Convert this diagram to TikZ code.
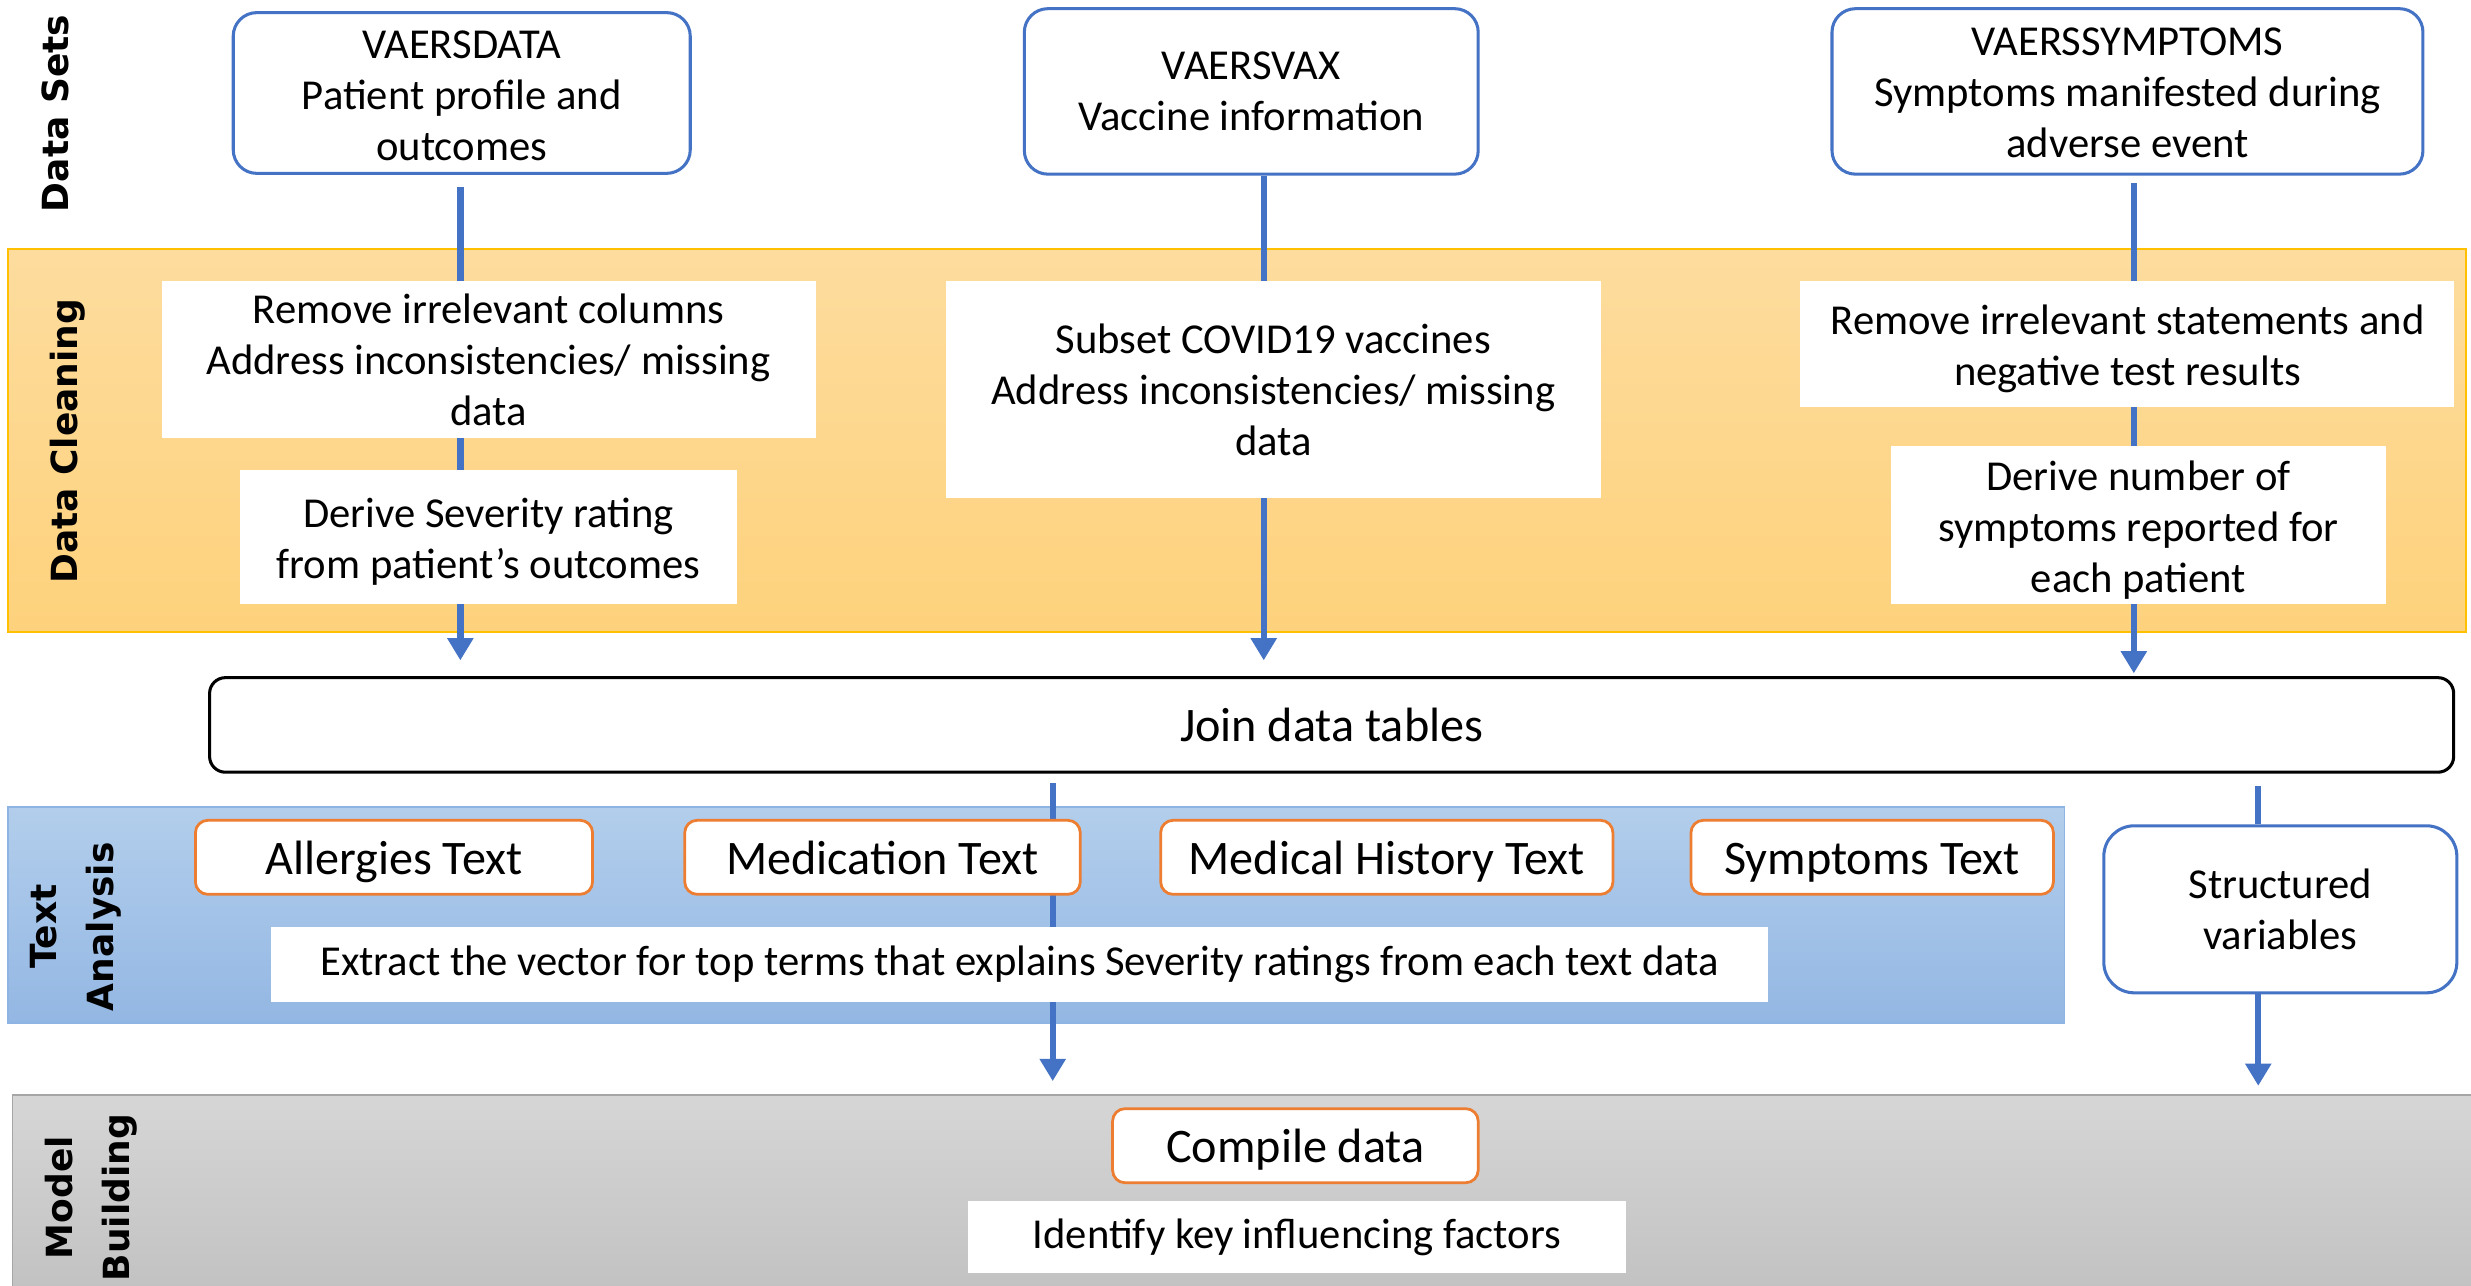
\documentclass[tikz,border=0pt]{standalone}
\usepackage{fontspec}
\setmainfont{Carlito}
\newfontfamily\lanefont{DejaVu Sans}
\usetikzlibrary{arrows.meta}
\definecolor{dblue}{HTML}{4472C4}
\definecolor{orng}{HTML}{ED7D31}
\definecolor{goldtop}{HTML}{FDDC9E}
\definecolor{goldbot}{HTML}{FED27C}
\definecolor{goldline}{HTML}{FFC000}
\definecolor{bluetop}{HTML}{B3CEEC}
\definecolor{bluebot}{HTML}{93B7E3}
\definecolor{blueline}{HTML}{8EB4E3}
\definecolor{graytop}{HTML}{D6D6D6}
\definecolor{graybot}{HTML}{C0C0C0}
\definecolor{grayline}{HTML}{A6A6A6}
\newcommand\pxu{0.02cm}
\newcommand\mainsz{\fontsize{15.4}{18.4}\selectfont}
\newcommand\bigsz{\fontsize{17.4}{20}\selectfont}
\newcommand\lowtab[2]{\raisebox{-#1}[\height][\depth]{\begin{tabular}{@{}c@{}}#2\end{tabular}}}
\pgfdeclarelayer{bg}
\pgfdeclarelayer{mid}
\pgfsetlayers{bg,mid,main}
\begin{document}
\begin{tikzpicture}[x=0.02cm,y=-0.02cm,
  dsbox/.style={draw=dblue, line width=1.1pt, rounded corners=8.5pt, fill=white, align=center, inner sep=0pt, font=\mainsz},
  wbox/.style={fill=white, align=center, inner sep=0pt, font=\mainsz},
  obox/.style={draw=orng, line width=1pt, rounded corners=4.5pt, fill=white, align=center, inner sep=0pt, font=\bigsz, text height=14pt, text depth=1.6pt},
  lanelbl/.style={rotate=90, align=center, font=\lanefont\bfseries\fontsize{13}{20.5}\selectfont},
  arr/.style={draw=dblue, line width=2.3pt, -{Triangle[width=9pt,length=8pt]}},
  conn/.style={draw=dblue, line width=2.3pt}
]
\path[use as bounding box] (0,0) rectangle (1568,816);

% top data sets
\node[dsbox, minimum width=290*\pxu, minimum height=102*\pxu] (vdata) at (293,59) {\lowtab{2.3pt}{VAERSDATA\\Patient profile and\\outcomes}};
\node[dsbox, minimum width=288*\pxu, minimum height=105*\pxu] (vvax) at (794,58) {VAERSVAX\\Vaccine information};
\node[dsbox, minimum width=375*\pxu, minimum height=105*\pxu] (vsym) at (1350,58) {\lowtab{1.7pt}{VAERSSYMPTOMS\\Symptoms manifested during\\adverse event}};

% cleaning
\node[wbox, minimum width=415*\pxu, minimum height=100*\pxu] (c1a) at (310,228) {\lowtab{1.8pt}{Remove irrelevant columns\\Address inconsistencies/ missing\\data}};
\node[wbox, minimum width=315*\pxu, minimum height=85*\pxu] (c1b) at (310,341) {\lowtab{1.9pt}{Derive Severity rating\\from patient’s outcomes}};
\node[wbox, minimum width=416*\pxu, minimum height=138*\pxu] (c2) at (808,247) {\lowtab{1.7pt}{Subset COVID19 vaccines\\Address inconsistencies/ missing\\data}};
\node[wbox, minimum width=415*\pxu, minimum height=80*\pxu] (c3a) at (1350,218) {\lowtab{2.2pt}{Remove irrelevant statements and\\negative test results}};
\node[wbox, minimum width=314*\pxu, minimum height=100*\pxu] (c3b) at (1357,333) {\lowtab{2.2pt}{Derive number of\\symptoms reported for\\each patient}};

% join
\node[draw=black, line width=1.1pt, rounded corners=5.7pt, fill=white, inner sep=0pt, font=\bigsz, minimum width=1424*\pxu, minimum height=60*\pxu] (join) at (845,460) {Join data tables};

% text analysis
\node[obox, minimum width=252*\pxu, minimum height=47*\pxu] (allergy) at (250,544) {Allergies Text};
\node[obox, minimum width=251*\pxu, minimum height=47*\pxu] (med) at (560,544) {Medication Text};
\node[obox, minimum width=287*\pxu, minimum height=47*\pxu] (medhist) at (880,544) {Medical History Text};
\node[obox, minimum width=230*\pxu, minimum height=47*\pxu] (symt) at (1188,544) {Symptoms Text};
\node[wbox, minimum width=950*\pxu, minimum height=47*\pxu] (extract) at (647,612) {Extract the vector for top terms that explains Severity ratings from each text data};
\node[dsbox, rounded corners=11pt, minimum width=224*\pxu, minimum height=106*\pxu] (strv) at (1447,577) {Structured\\variables};

% model building
\node[obox, minimum width=232*\pxu, minimum height=47*\pxu] (compile) at (822,727) {Compile data};
\node[wbox, minimum width=418*\pxu, minimum height=46*\pxu] (identify) at (823,785) {Identify key influencing factors};

% lane labels
\node[lanelbl] (lds) at (35,72) {Data Sets};
\node[lanelbl] (ldc) at (43,280) {Data Cleaning};
\node[lanelbl] (lta) at (48,588) {Text\\Analysis};
\node[lanelbl] (lmb) at (58,760) {Model\\Building};

\coordinate (x1) at (668,0);
\coordinate (x2) at (1433,0);
\coordinate (tip1) at (668,686);
\coordinate (tip2) at (1433,689);

\begin{pgfonlayer}{mid}
\draw[arr, shorten >=5.7pt] ([yshift=-4.5pt,xshift=-0.5pt]vdata.south) -- ([xshift=-0.5pt]vdata.south |- join.north);
\draw[arr, shorten >=5.7pt] ([xshift=4.5pt]vvax.south) -- ([xshift=4.5pt]vvax.south |- join.north);
\draw[arr, shorten >=1pt] ([yshift=-2.8pt,xshift=2.3pt]vsym.south) -- ([xshift=2.3pt]vsym.south |- join.north);
\draw[arr] ([yshift=-3.4pt]join.south -| x1) -- (tip1);
\draw[conn] ([yshift=-4.5pt]join.south -| x2) -- (strv.north -| x2);
\draw[arr] (strv.south -| x2) -- (tip2);
\end{pgfonlayer}

\begin{pgfonlayer}{bg}
\fill[white] (0,0) rectangle (1568,816);
\draw[goldline, line width=0.6pt, top color=goldtop, bottom color=goldbot] (5,158) rectangle (1565,401);
\draw[blueline, line width=0.6pt, top color=bluetop, bottom color=bluebot] (5,512) rectangle (1310,649);
\draw[grayline, line width=0.6pt, top color=graytop, bottom color=graybot] (8,695) rectangle (1580,830);
\end{pgfonlayer}
\end{tikzpicture}
\end{document}
